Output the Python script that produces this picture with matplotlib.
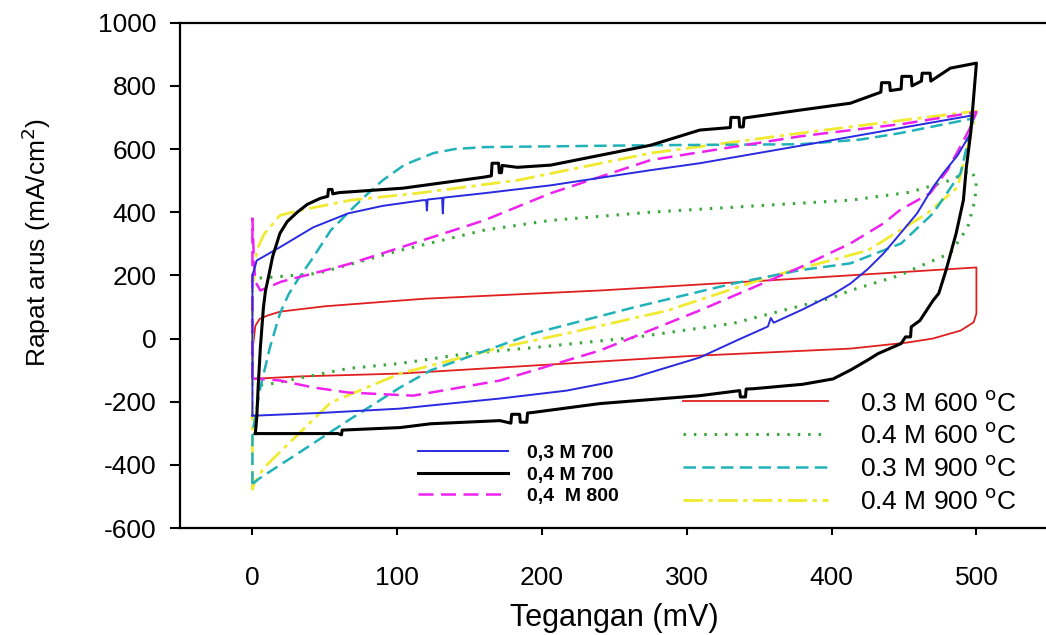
import matplotlib
matplotlib.use("Agg")
import matplotlib.pyplot as plt

plt.rcParams['font.family'] = ['Liberation Sans', 'DejaVu Sans']
plt.rcParams['axes.unicode_minus'] = False

# Tegangan (mV) dan rapat arus (mA/cm2) tiap kurva CV (maju lalu balik)
red_v = [0, 0.5, 2, 5, 10, 19, 50, 119, 240, 378, 500, 500, 498, 489, 470, 452, 413, 300, 200, 102, 33, 3, 0]
red_i = [-128, -20, 40, 62, 72, 85, 102, 126, 152, 190, 225, 79, 51, 25, 0, -13, -32, -56, -84, -111, -120, -127, -128]

green_v = [0, 0, 10, 45, 102, 160, 206, 275, 413, 454, 482, 496, 500,
           499, 494, 482, 459, 447, 413, 401, 332, 263, 194, 148, 102, 66, 10, 0]
green_i = [-149, 190, 193, 206, 279, 343, 374, 400, 438, 463, 501, 533, 501,
           438, 352, 270, 225, 200, 152, 130, 48, 3, -29, -48, -79, -95, -146, -149]

cyan_v = [0, 0, 3, 5.5, 12, 19, 25, 31, 42, 54, 70, 80, 90, 105, 125, 140, 160, 275, 378, 420, 447, 498,
          489, 470, 448, 413, 378, 332, 263, 194, 148, 123, 102, 66, 31, 5.5, 0]
cyan_i = [-460, -300, -220, -155, -30, 79, 140, 184, 257, 342, 416, 460, 501, 550, 587, 600, 606, 612, 615, 630, 650, 697,
          523, 396, 301, 238, 216, 174, 98, 16, -60, -101, -155, -260, -365, -441, -460]

yellow_v = [0, 0, 3, 8, 19, 33, 68, 114, 183, 275, 378, 447, 500,
            487, 466, 425, 356, 287, 217, 171, 102, 54, 8, 1, 0]
yellow_i = [-480, 150, 280, 330, 390, 406, 438, 460, 501, 587, 650, 690, 720,
            479, 396, 279, 194, 89, 16, -29, -111, -203, -409, -460, -480]

magenta_v = [0, 0, 1, 2, 5.5, 20, 42, 66, 90, 160, 206, 275, 378, 450, 500,
             496, 488, 480, 468, 447, 436, 413, 378, 309, 240, 171, 111, 66, 42, 19, 3, 1]
magenta_i = [-127, 380, 250, 180, 152, 180, 206, 235, 270, 374, 460, 565, 640, 680, 717,
             670, 600, 533, 460, 406, 365, 301, 225, 89, -38, -133, -181, -171, -155, -133, -127, -127]

blue_v = [0, 0, 3, 19, 42, 66, 90, 118, 120, 120.5, 121, 131, 131.5, 132, 160, 206, 275, 309, 378, 447, 498,
          496, 487, 477, 470, 459, 447, 436, 425, 413, 401, 380, 360, 358, 356, 335, 309, 263, 217, 171, 123,
          102, 50, 3, 0]
blue_i = [-244, 200, 247, 289, 352, 396, 420, 438, 438, 405, 440, 445, 396, 446, 460, 485, 533, 555, 610, 666, 707,
          650, 580, 523, 479, 396, 330, 270, 220, 174, 140, 92, 50, 65, 38, -5, -60, -124, -165, -190, -212,
          -222, -235, -244, -244]

black_v = [2, 3, 4, 5.5, 7.6, 9, 11, 14, 19, 24, 31, 38, 47, 52, 52.5, 55, 55.5, 60, 104, 160, 165, 165.5, 170,
           170.5, 172, 172.5, 183, 206, 240, 275, 309, 330, 330.5, 336, 336.5, 339, 339.5, 378, 413, 434, 434.5,
           440, 440.5, 448, 448.5, 455, 455.5, 462, 462.5, 468, 468.5, 482, 500,
           500, 498, 496, 493, 491, 486, 479, 474, 470, 461, 455, 454.5, 451, 448, 432, 425, 413, 401, 380, 346,
           341, 340.5, 337, 336.5, 309, 240, 194, 190, 189.5, 185, 184.5, 179, 178.5, 171, 123, 102, 62, 61.5,
           59, 30, 2]
black_i = [-301, -250, -150, -28, 98, 150, 193, 260, 333, 370, 400, 425, 444, 450, 472, 472, 458, 462, 476, 511,
           515, 555, 555, 525, 525, 548, 542, 549, 580, 612, 660, 668, 700, 700, 670, 670, 698, 723, 745, 780,
           810, 810, 785, 790, 830, 830, 800, 815, 840, 840, 815, 856, 872,
           872, 760, 650, 540, 438, 333, 216, 143, 120, 57, 37, 5, 5, -16, -48, -68, -100, -128, -145, -159,
           -160, -185, -185, -165, -181, -206, -234, -236, -265, -265, -240, -240, -268, -260, -270, -282, -290,
           -305, -301, -301, -301]

fig = plt.figure(figsize=(10.46, 6.35), dpi=100)
ax = fig.add_axes([0.1721, 0.1685, 0.8306, 0.7958])

l_red, = ax.plot(red_v, red_i, color='#e02020', lw=1.3)
l_green, = ax.plot(green_v, green_i, color='#3aa83a', lw=2.2, linestyle=(0, (0.8, 2.6)))
l_yellow, = ax.plot(yellow_v, yellow_i, color='#f0ea30', lw=2.0, linestyle=(0, (7, 2, 1.5, 2)))
l_cyan, = ax.plot(cyan_v, cyan_i, color='#20b2b8', lw=1.8, linestyle=(0, (5, 2.5)))
l_mag, = ax.plot(magenta_v, magenta_i, color='#ee22ee', lw=1.8, linestyle=(0, (6, 3)))
l_blue, = ax.plot(blue_v, blue_i, color='#2a2ae0', lw=1.4)
l_black, = ax.plot(black_v, black_i, color='black', lw=2.2)

ax.set_xlim(-50, 550)
ax.set_ylim(-600, 1000)
ax.set_xticks([0, 100, 200, 300, 400, 500])
ax.set_yticks(range(-600, 1001, 200))
ax.tick_params(axis='x', labelsize=19, length=5, width=1.5, pad=22)
ax.tick_params(axis='y', labelsize=19, length=7, width=1.5, pad=10)
ax.spines['right'].set_visible(False)
for s in ['left', 'bottom', 'top']:
    ax.spines[s].set_linewidth(1.6)

ax.set_xlabel('Tegangan (mV)', fontsize=22)
ax.set_ylabel('Rapat arus (mA/cm$^2$)', fontsize=19)
ax.xaxis.set_label_coords(0.5, -0.148)
ax.yaxis.set_label_coords(-0.146, 0.566)

leg1 = ax.legend([l_blue, l_black, l_mag], ['0,3 M 700', '0,4 M 700', '0,4  M 800'],
                 loc='upper left', bbox_to_anchor=(0.400, 0.300), bbox_transform=fig.transFigure,
                 frameon=False, borderpad=0, borderaxespad=0, handlelength=4.6,
                 handletextpad=1.0, labelspacing=0.2, prop={'size': 14, 'weight': 'bold'})
ax.add_artist(leg1)
ax.legend([l_red, l_green, l_cyan, l_yellow],
          ['0.3 M 600 $^{\\mathrm{o}}$C', '0.4 M 600 $^{\\mathrm{o}}$C',
           '0.3 M 900 $^{\\mathrm{o}}$C', '0.4 M 900 $^{\\mathrm{o}}$C'],
          loc='upper left', bbox_to_anchor=(0.653, 0.385), bbox_transform=fig.transFigure,
          frameon=False, borderpad=0, borderaxespad=0, handlelength=5.5,
          handletextpad=1.2, labelspacing=0.3, prop={'size': 19})

fig.savefig('out.png', dpi=100)
